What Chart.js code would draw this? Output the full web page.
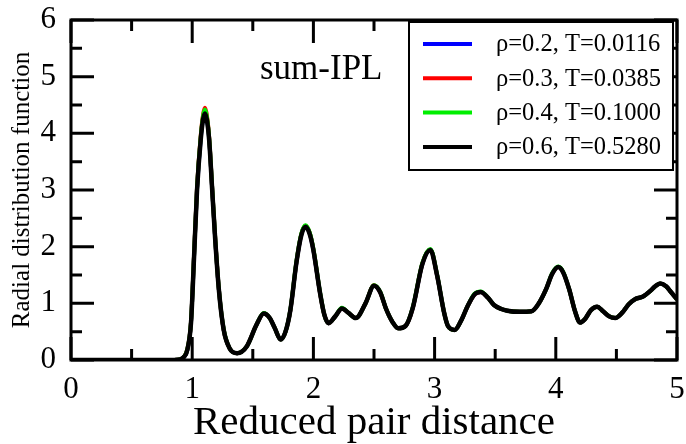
<!DOCTYPE html>
<html>
<head>
<meta charset="utf-8">
<script src="https://cdn.jsdelivr.net/npm/chart.js@4"></script>
<style>
  html, body { margin: 0; padding: 0; background: #fff; }
</style>
</head>
<body>
<canvas id="myChart" width="686" height="444"></canvas>
<script>
// reduced pair distance (x) shared by every curve
const distance = [0, 0.5, 0.85, 0.9, 0.93, 0.96, 0.99, 1.015, 1.04, 1.07,
  1.09, 1.105, 1.12, 1.14, 1.165, 1.19, 1.22, 1.26, 1.31, 1.37,
  1.45, 1.53, 1.59, 1.64, 1.68, 1.73, 1.77, 1.81, 1.86, 1.9,
  1.935, 1.97, 2.0, 2.055, 2.09, 2.125, 2.18, 2.235, 2.29, 2.35,
  2.43, 2.5, 2.55, 2.6, 2.65, 2.7, 2.76, 2.82, 2.9, 2.965,
  3.02, 3.08, 3.11, 3.165, 3.22, 3.27, 3.33, 3.38, 3.44, 3.49,
  3.55, 3.6, 3.7, 3.8, 3.86, 3.92, 3.97, 4.02, 4.06, 4.11,
  4.16, 4.2, 4.24, 4.29, 4.34, 4.39, 4.44, 4.49, 4.55, 4.6,
  4.66, 4.72, 4.78, 4.82, 4.86, 4.91, 4.95, 5.0];

// radial distribution function for each state point
const gRho02 = [0, 0, 0, 0.01, 0.05, 0.18, 0.66, 1.82, 3.02, 3.9,
  4.28, 4.38, 4.28, 3.9, 3.02, 2.13, 1.25, 0.53, 0.2, 0.12,
  0.24, 0.62, 0.82, 0.74, 0.57, 0.36, 0.5, 0.88, 1.72, 2.21,
  2.36, 2.23, 1.94, 1.18, 0.8, 0.65, 0.77, 0.91, 0.83, 0.74,
  1.0, 1.31, 1.2, 0.9, 0.68, 0.56, 0.6, 0.92, 1.7, 1.95,
  1.5, 0.82, 0.6, 0.53, 0.7, 0.94, 1.16, 1.2, 1.1, 0.97,
  0.9, 0.87, 0.85, 0.86, 1.0, 1.25, 1.52, 1.64, 1.55, 1.25,
  0.85, 0.66, 0.72, 0.88, 0.94, 0.86, 0.77, 0.74, 0.84, 0.98,
  1.08, 1.12, 1.22, 1.3, 1.35, 1.3, 1.2, 1.07];
const gRho03 = [0, 0, 0, 0.01, 0.05, 0.19, 0.67, 1.84, 3.05, 3.95,
  4.33, 4.45, 4.33, 3.93, 3.03, 2.14, 1.25, 0.53, 0.2, 0.12,
  0.24, 0.62, 0.82, 0.74, 0.57, 0.36, 0.5, 0.88, 1.73, 2.22,
  2.37, 2.24, 1.95, 1.18, 0.8, 0.65, 0.77, 0.91, 0.83, 0.74,
  1.0, 1.32, 1.2, 0.9, 0.68, 0.56, 0.6, 0.92, 1.71, 1.95,
  1.5, 0.82, 0.6, 0.53, 0.7, 0.94, 1.16, 1.2, 1.1, 0.97,
  0.9, 0.87, 0.85, 0.86, 1.0, 1.25, 1.52, 1.64, 1.55, 1.25,
  0.85, 0.66, 0.72, 0.88, 0.94, 0.86, 0.77, 0.74, 0.84, 0.98,
  1.08, 1.12, 1.22, 1.3, 1.35, 1.3, 1.2, 1.07];
const gRho04 = [0, 0, 0, 0.01, 0.05, 0.19, 0.67, 1.83, 3.04, 3.93,
  4.31, 4.42, 4.31, 3.92, 3.03, 2.14, 1.25, 0.54, 0.2, 0.12,
  0.24, 0.62, 0.83, 0.74, 0.57, 0.36, 0.5, 0.89, 1.74, 2.23,
  2.38, 2.25, 1.96, 1.19, 0.8, 0.65, 0.77, 0.92, 0.83, 0.74,
  1.0, 1.32, 1.21, 0.9, 0.68, 0.56, 0.6, 0.93, 1.72, 1.96,
  1.51, 0.82, 0.6, 0.53, 0.7, 0.94, 1.17, 1.21, 1.1, 0.97,
  0.9, 0.87, 0.85, 0.86, 1.0, 1.25, 1.53, 1.65, 1.56, 1.25,
  0.85, 0.66, 0.72, 0.88, 0.94, 0.86, 0.77, 0.74, 0.84, 0.98,
  1.08, 1.12, 1.22, 1.3, 1.35, 1.3, 1.2, 1.07];
const gRho06 = [0, 0, 0, 0.01, 0.05, 0.18, 0.65, 1.8, 3.0, 3.88,
  4.25, 4.35, 4.25, 3.88, 3.0, 2.12, 1.24, 0.53, 0.2, 0.12,
  0.24, 0.62, 0.82, 0.74, 0.57, 0.36, 0.5, 0.88, 1.72, 2.2,
  2.35, 2.22, 1.94, 1.18, 0.8, 0.65, 0.77, 0.91, 0.83, 0.74,
  1.0, 1.31, 1.2, 0.9, 0.68, 0.56, 0.6, 0.92, 1.7, 1.94,
  1.5, 0.82, 0.6, 0.53, 0.7, 0.94, 1.16, 1.2, 1.1, 0.97,
  0.9, 0.87, 0.85, 0.86, 1.0, 1.25, 1.52, 1.64, 1.55, 1.25,
  0.85, 0.66, 0.72, 0.88, 0.94, 0.86, 0.77, 0.74, 0.84, 0.98,
  1.08, 1.12, 1.22, 1.3, 1.35, 1.3, 1.2, 1.07];

const seriesLabels = ['\u03c1=0.2, T=0.0116', '\u03c1=0.3, T=0.0385', '\u03c1=0.4, T=0.1000', '\u03c1=0.6, T=0.5280'];
const seriesColors = ['#0000ff', '#ff0000', '#00ee00', '#000000'];

const xTicks = [0, 1, 2, 3, 4, 5];
const xMinor = [0.5, 1.5, 2.5, 3.5, 4.5];
const yTicks = [0, 1, 2, 3, 4, 5, 6];
const yMinor = [0.5, 1.5, 2.5, 3.5, 4.5, 5.5];

const serif = '"Liberation Serif", "Times New Roman", serif';

const toPoints = g => distance.map((r, i) => ({ x: r, y: g[i] }));

// frame on all four sides with inward ticks
const framePlugin = {
    id: 'frame',
    afterDatasetsDraw(chart) {
        const ctx = chart.ctx, a = chart.chartArea;
        const xs = chart.scales.x, ys = chart.scales.y;
        ctx.save();
        ctx.strokeStyle = '#000';
        ctx.lineWidth = 3;
        ctx.beginPath();
        const xMark = (v, len) => {
            const px = xs.getPixelForValue(v);
            ctx.moveTo(px, a.bottom); ctx.lineTo(px, a.bottom - len);
            ctx.moveTo(px, a.top); ctx.lineTo(px, a.top + len);
        };
        const yMark = (v, len) => {
            const py = ys.getPixelForValue(v);
            ctx.moveTo(a.left, py); ctx.lineTo(a.left + len, py);
            ctx.moveTo(a.right, py); ctx.lineTo(a.right - len, py);
        };
        xTicks.forEach(v => xMark(v, 23));
        xMinor.forEach(v => xMark(v, 11));
        yTicks.forEach(v => yMark(v, 23));
        yMinor.forEach(v => yMark(v, 11));
        ctx.stroke();
        ctx.strokeRect(a.left, a.top, a.right - a.left, a.bottom - a.top);
        ctx.restore();
    }
};

// boxed legend in the upper right plus the "sum-IPL" note
const legendPlugin = {
    id: 'boxLegend',
    afterDraw(chart) {
        const ctx = chart.ctx;
        ctx.save();
        ctx.fillStyle = '#fff';
        ctx.fillRect(409, 22, 264, 148);
        ctx.strokeStyle = '#000';
        ctx.lineWidth = 2;
        ctx.strokeRect(409, 22, 264, 148);
        ctx.font = '24.5px ' + serif;
        ctx.textBaseline = 'middle';
        chart.data.datasets.forEach((ds, i) => {
            const y = 44 + i * 34.3;
            ctx.strokeStyle = ds.borderColor;
            ctx.lineWidth = 4;
            ctx.beginPath();
            ctx.moveTo(423, y);
            ctx.lineTo(472, y);
            ctx.stroke();
            ctx.fillStyle = '#000';
            ctx.fillText(ds.label, 496, y + 1);
        });
        ctx.font = '35px ' + serif;
        ctx.textBaseline = 'alphabetic';
        ctx.fillText('sum-IPL', 260, 79);
        ctx.restore();
    }
};

const ctx = document.getElementById('myChart').getContext('2d');
const gData = [gRho02, gRho03, gRho04, gRho06];
new Chart(ctx, {
    type: 'scatter',
    data: {
        datasets: gData.map((g, i) => ({
            label: seriesLabels[i],
            data: toPoints(g),
            showLine: true,
            borderColor: seriesColors[i],
            backgroundColor: seriesColors[i],
            borderWidth: i === 3 ? 4.5 : 4,
            pointRadius: 0,
            cubicInterpolationMode: 'monotone',
            order: 3 - i
        }))
    },
    options: {
        responsive: false,
        animation: false,
        layout: { padding: { top: 20, right: 9, left: 0, bottom: 0 } },
        plugins: { legend: { display: false }, tooltip: { enabled: false } },
        scales: {
            x: {
                type: 'linear',
                min: 0,
                max: 5,
                grid: { display: false },
                border: { display: false },
                afterBuildTicks: s => { s.ticks = xTicks.map(v => ({ value: v })); },
                afterFit: s => { s.height = 84; s.paddingLeft = 0; s.paddingRight = 0; },
                ticks: { color: '#000', font: { family: serif, size: 31 }, padding: 3, maxRotation: 0 },
                title: {
                    display: true,
                    text: 'Reduced pair distance',
                    color: '#000',
                    font: { family: serif, size: 41, lineHeight: 1.0 },
                    padding: 0
                }
            },
            y: {
                type: 'linear',
                min: 0,
                max: 6,
                grid: { display: false },
                border: { display: false },
                afterBuildTicks: s => { s.ticks = yTicks.map(v => ({ value: v })); },
                afterFit: s => { s.width = 71; s.paddingTop = 0; s.paddingBottom = 0; },
                ticks: { color: '#000', font: { family: serif, size: 31 }, padding: 7 },
                title: {
                    display: true,
                    text: 'Radial distribution function',
                    color: '#000',
                    font: { family: serif, size: 25 },
                    padding: { top: 7, bottom: 0 }
                }
            }
        }
    },
    plugins: [framePlugin, legendPlugin]
});
</script>
</body>
</html>
